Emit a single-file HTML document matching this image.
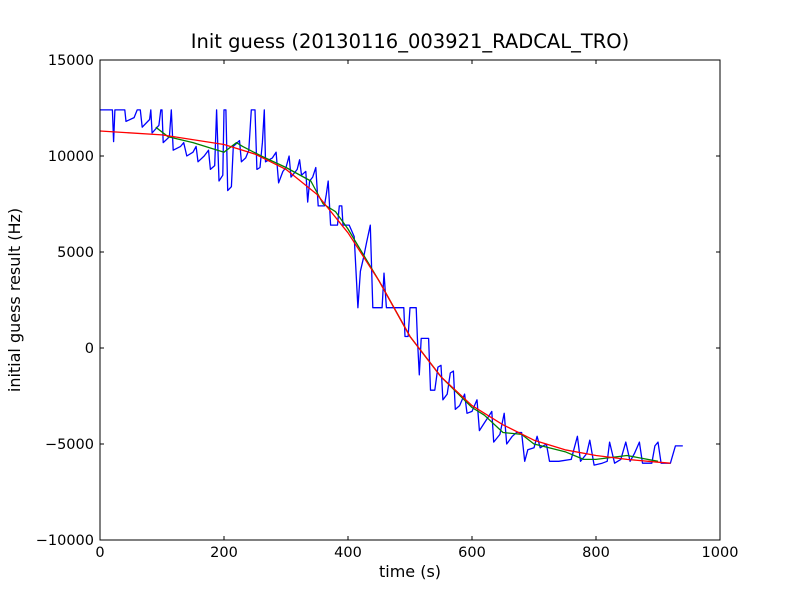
<!DOCTYPE html>
<html><head><meta charset="utf-8"><style>
body{margin:0;background:#fff;}
svg{display:block;font-family:"DejaVu Sans","Liberation Sans",sans-serif;}
</style></head><body>
<svg id="chart" width="800" height="600">
<rect width="800" height="600" fill="#fff"/>
<text x="410" y="48" text-anchor="middle" font-size="19.5">Init guess (20130116_003921_RADCAL_TRO)</text>
<text x="410" y="577" text-anchor="middle" font-size="16">time (s)</text>
<text transform="translate(20,300) rotate(-90)" text-anchor="middle" font-size="16">initial guess result (Hz)</text>
<g id="ticks"></g>
<g id="series"></g>
<rect x="100" y="60" width="620" height="480" fill="none" stroke="#000" stroke-width="1"/>
</svg>
<script>
const xTicks=[0,200,400,600,800,1000];
const yTicks=[-10000,-5000,0,5000,10000,15000];
const yTickLabels=["\u221210000","\u22125000","0","5000","10000","15000"];
const blueT=[0,20,22,24,40,42,55,60,65,68,80,82,84,95,98,100,102,112,115,118,130,135,140,150,155,158,168,175,178,185,188,192,198,200,203,206,212,215,225,228,235,240,244,250,253,258,262,265,267,278,284,288,295,300,305,308,318,322,325,332,335,338,343,348,352,362,365,368,372,383,386,390,392,402,410,416,420,425,430,436,440,455,458,462,480,490,492,497,500,510,512,515,518,530,533,540,545,550,553,560,565,570,573,580,588,592,600,608,612,620,628,632,635,645,652,656,665,672,680,685,690,700,705,710,720,725,740,760,770,775,785,790,797,810,818,822,830,840,848,855,862,870,875,890,895,900,905,920,928,940];
const blueV=[12400,12400,10750,12400,12400,11800,12000,12400,12400,11500,11900,12400,11200,11600,12400,12400,10700,11000,12400,10300,10500,10700,10000,10200,10500,9700,10000,10300,9300,9500,12400,8700,9000,12400,12400,8200,8400,10500,10800,9700,9900,10300,12400,12400,9300,9400,10700,12400,9700,9900,10200,8600,9200,9400,10000,8900,9300,9800,9000,9200,7600,8700,8900,9400,7400,7400,8000,8700,6400,6400,7400,7400,6400,6400,5800,2100,4000,4700,5500,6400,2100,2100,3900,2100,2100,2100,600,600,2100,2100,500,-1400,500,500,-2200,-2200,-1000,-900,-2700,-2400,-1300,-1200,-3200,-3000,-2400,-3400,-3300,-2700,-4300,-3900,-3500,-3300,-4900,-4500,-3400,-5000,-4600,-4400,-4400,-5900,-5300,-5200,-4600,-5200,-5000,-5900,-5900,-5800,-4600,-5900,-5500,-4800,-6100,-6000,-5900,-4900,-6000,-5800,-4900,-5900,-5500,-4900,-6000,-6000,-5100,-4900,-6000,-6000,-5100,-5100];
const greenT=[90,110,150,200,220,230,260,300,340,350,360,380,400,450,500,550,600,620,650,680,700,750,780,800,850,900];
const greenV=[11500,11000,10700,10200,10700,10500,10000,9400,8700,8100,7500,7100,6200,3500,600,-1500,-3100,-3500,-4400,-4500,-5000,-5400,-5800,-5800,-5600,-5900];
const redT=[0,100,200,250,300,350,400,450,500,550,600,650,700,750,800,850,900,920];
const redV=[11300,11100,10600,10100,9300,8000,6000,3500,600,-1500,-3000,-4000,-4800,-5300,-5600,-5800,-5950,-6000];

const NS="http://www.w3.org/2000/svg";
const X=t=>100+t/1000*620;
const Y=v=>540-(v+10000)/25000*480;
const tk=document.getElementById('ticks');
function mk(tag,attrs,parent){const e=document.createElementNS(NS,tag);for(const k in attrs)e.setAttribute(k,attrs[k]);parent.appendChild(e);return e;}
xTicks.forEach(t=>{
  const x=X(t);
  const l1=mk('line',{x1:x,x2:x,y1:540,y2:536,stroke:'#000'},tk);
  
  
  const l2=mk('line',{x1:x,x2:x,y1:60,y2:64,stroke:'#000'},tk);
  
  
  const tx=mk('text',{x:x,y:557,'text-anchor':'middle','font-size':14.5},tk);
  tx.textContent=t;
  
  
});
yTicks.forEach((v,i)=>{
  const y=Y(v);
  const l1=mk('line',{x1:100,x2:104,y1:y,y2:y,stroke:'#000'},tk);
  
  
  const l2=mk('line',{x1:716,x2:720,y1:y,y2:y,stroke:'#000'},tk);
  
  
  const tx=mk('text',{x:94,y:y+5,'text-anchor':'end','font-size':14.5},tk);
  tx.textContent=yTickLabels[i];
  
  
});
const sg=document.getElementById('series');
function line(T,V,color,name){
  const d=T.map((t,i)=>(i?'L':'M')+X(t).toFixed(1)+','+Y(V[i]).toFixed(1)).join('');
  const p=mk('path',{d:d,fill:'none',stroke:color,'stroke-width':1.3,'stroke-linejoin':'round'},sg);
  
  
}
line(blueT,blueV,'#0000ff','raw-guess-line');
line(greenT,greenV,'#008000','smoothed-line');
line(redT,redV,'#ff0000','fit-line');
</script>
</body></html>
